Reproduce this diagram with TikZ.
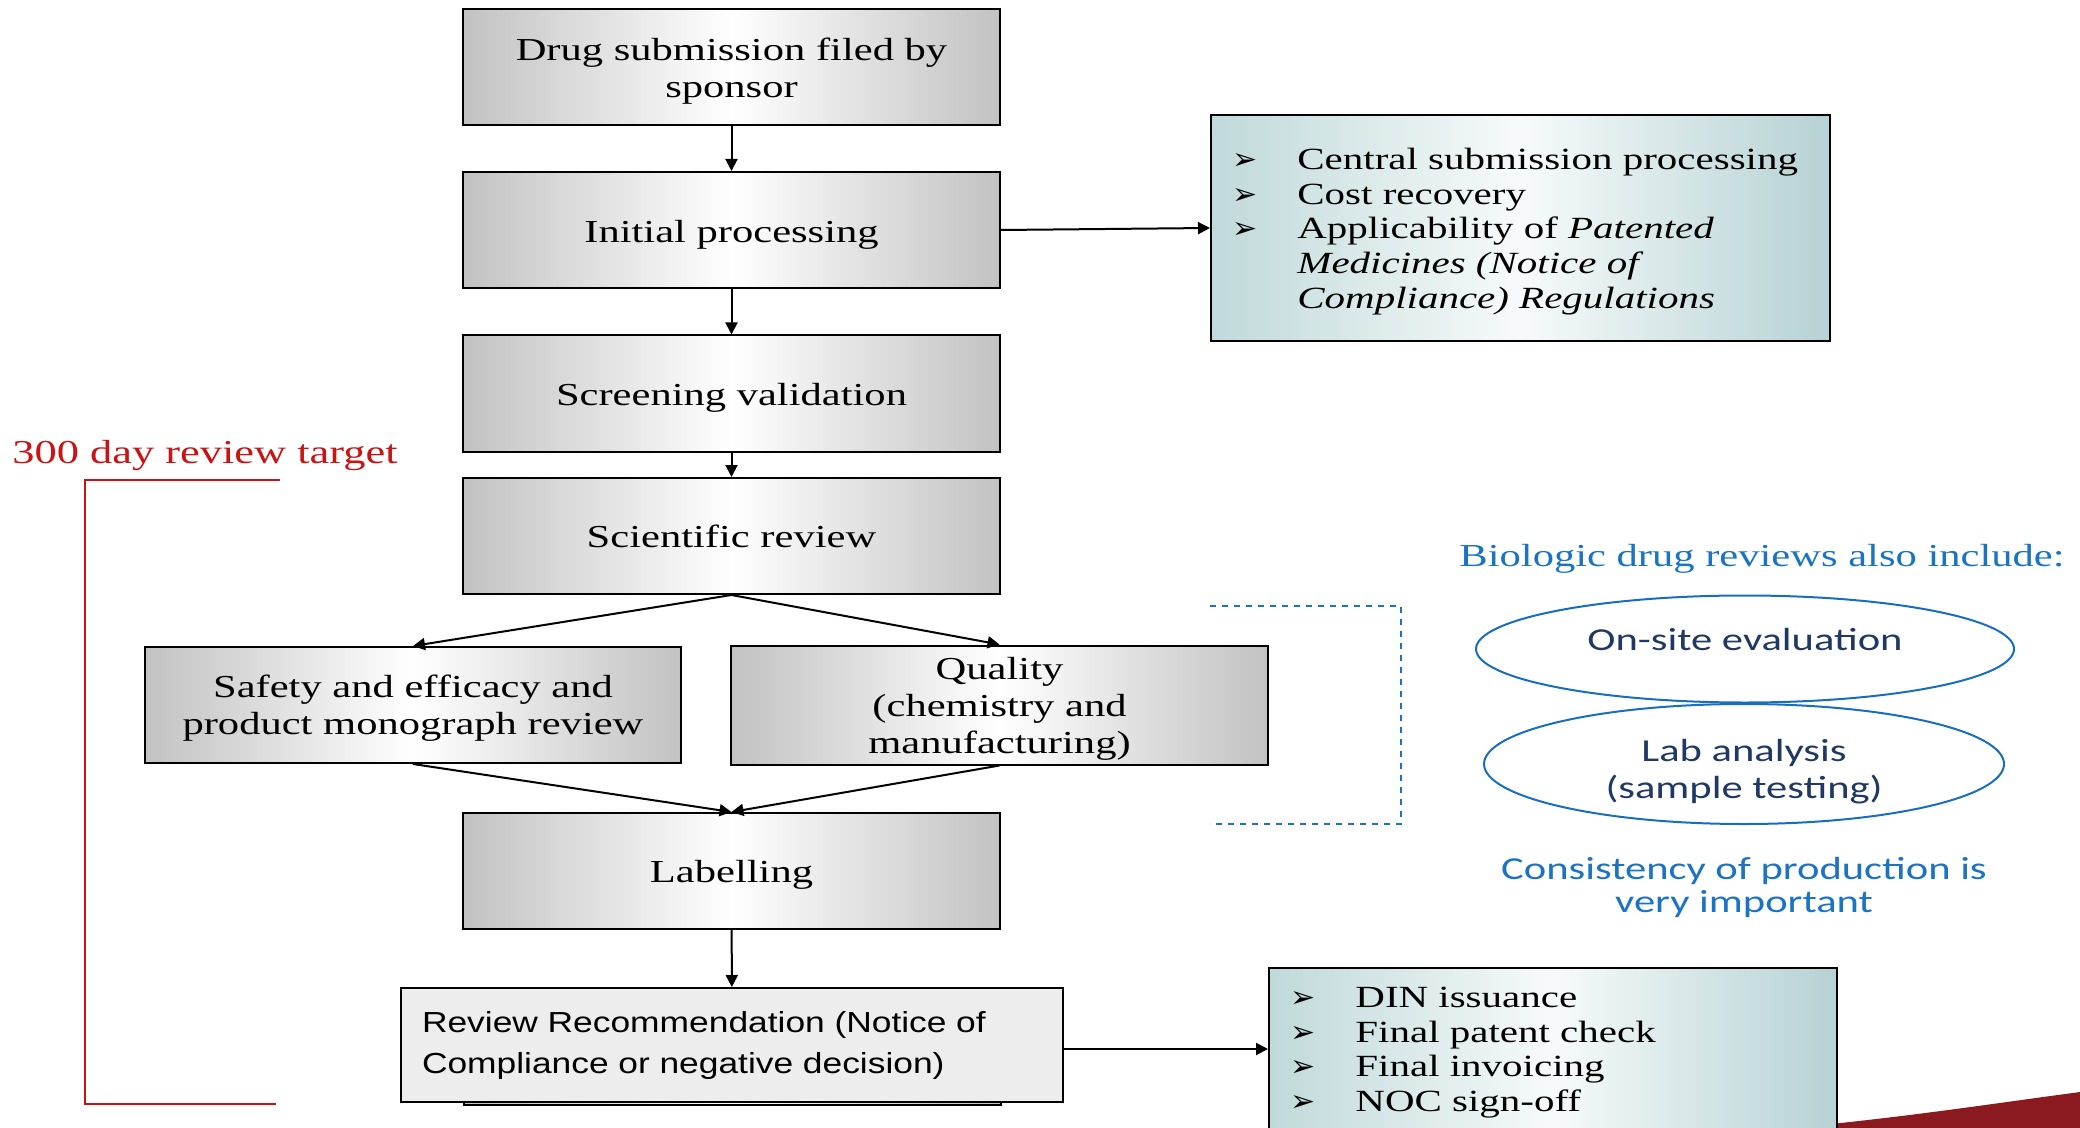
\documentclass[tikz,border=0pt]{standalone}
\usepackage{fontspec}
\setmainfont[FakeStretch=1.33]{Liberation Serif}
\newfontfamily\arialf[FakeStretch=1.22]{Liberation Sans}
\newfontfamily\calf[FakeStretch=1.33]{Carlito}
\newfontfamily\symf{DejaVu Sans}
\usetikzlibrary{arrows.meta,shapes.geometric}
\definecolor{redc}{RGB}{200,20,20}
\definecolor{bluec}{RGB}{26,115,196}
\definecolor{navyc}{RGB}{31,56,100}
\definecolor{ellc}{RGB}{24,110,190}
\definecolor{tealL}{RGB}{192,217,218}
\definecolor{tealR}{RGB}{182,210,212}
\definecolor{tealM}{RGB}{247,250,250}
\definecolor{swoosh}{RGB}{138,26,31}
\newcommand{\bul}{\makebox[12pt][l]{\symf\fontsize{15}{15}\selectfont ➢}\hspace{20.5pt}}
\newcommand{\btxt}[2][-2.7pt]{\raisebox{#1}[\height][\depth]{\begin{tabular}{@{}c@{}}#2\end{tabular}}}
\tikzset{
  graybox/.style={draw=black, line width=1pt, left color=black!24, right color=black!24, middle color=white,
    minimum width=268.5pt, minimum height=58pt, inner sep=2pt, align=center,
    font=\fontsize{16}{18.5}\selectfont},
  tealbox/.style={draw=black, line width=1pt, left color=tealL, right color=tealR, middle color=tealM},
  arr/.style={-{Triangle[length=6pt,width=6pt]}, line width=1pt},
  bubble/.style={ellipse, draw=ellc, line width=1pt, text=navyc, align=center,
    font=\calf\fontsize{16}{18.5}\selectfont, inner sep=0pt},
  listtxt/.style={anchor=north west, inner sep=0pt, font=\fontsize{15.4}{17.3}\selectfont},
}
\begin{document}
\begin{tikzpicture}[x=0.5pt,y=-0.5pt]
\useasboundingbox (0,0) rectangle (2080,1128);
% decorative swoosh
\fill[swoosh] (1790,1128) .. controls (1900,1118) and (1990,1104) .. (2080,1092) -- (2080,1128) -- cycle;

% main flow
\node[graybox] (drug) at (731.5,67) {\btxt[-2.4pt]{Drug submission filed by\\sponsor}};
\node[graybox] (init) at (731.5,230) {\btxt{Initial processing}};
\node[graybox] (screen) at (731.5,393.5) {\btxt[-2.2pt]{Screening validation}};
\node[graybox] (sci) at (731.5,536) {\btxt[-2pt]{Scientific review}};
\node[graybox, minimum width=268pt] (safety) at (413,705) {\btxt[-2pt]{Safety and efficacy and\\product monograph review}};
\node[graybox] (quality) at (999.5,705) {\btxt[-2pt]{Quality\\(chemistry and\\manufacturing)}};
\node[graybox] (label) at (731.5,871) {\btxt[-2pt]{Labelling}};
\node[graybox] (recback) at (732,1047) {};
\node[draw=black, line width=1pt, fill=black!7, minimum width=331pt, minimum height=57pt,
  inner xsep=10.5pt, text width=310pt, align=left, font=\arialf\fontsize{14.5}{20.5}\selectfont]
  (rec) at (732,1045) {Review Recommendation (Notice of\\Compliance or negative decision)};

% right info boxes
\node[tealbox, minimum width=309.5pt, minimum height=113pt, anchor=north west] (box1) at (1210,114) {};
\node[listtxt] (box1txt) at (1232,145)
  {\begin{tabular}{@{}l@{}}
   \bul Central submission processing\\
   \bul Cost recovery\\
   \bul Applicability of \textit{Patented}\\
   \hspace{32.5pt}\textit{Medicines (Notice of}\\
   \hspace{32.5pt}\textit{Compliance) Regulations}
   \end{tabular}};
\node[tealbox, minimum width=284pt, minimum height=90pt, anchor=north west] (box2) at (1268,967) {};
\node[listtxt] (box2txt) at (1290,983)
  {\begin{tabular}{@{}l@{}}
   \bul DIN issuance\\
   \bul Final patent check\\
   \bul Final invoicing\\
   \bul NOC sign-off
   \end{tabular}};

% connectors
\draw[arr] (drug) -- (init);
\draw[arr] (init) -- (screen);
\draw[arr] (screen) -- (sci);
\draw[arr] (sci.south) -- (safety.north);
\draw[arr] (sci.south) -- (quality.north);
\draw[arr] (safety.south) -- (label.north);
\draw[arr] (quality.south) -- (label.north);
\draw[arr] (label) -- (rec);
\draw[arr] (init.east) -- (box1.west);
\draw[arr] ([yshift=-2pt]rec.east) -- ([yshift=-2pt]rec.east -| box2.west);

% 300 day bracket
\node[anchor=base west, text=redc, inner sep=0pt, font=\fontsize{16.7}{18}\selectfont] (target) at (12,463) {300 day review target};
\coordinate (bt) at (280,480);
\coordinate (bb) at (276,1104);
\draw[redc, line width=1pt] (bt) -- (85,480) -- (85,1104) -- (bb);

% biologic section
\coordinate (dt) at (1210,606);
\coordinate (db) at (1210,824);
\draw[bluec, dashed, line width=1pt] (dt) -- (1401,606) -- (1401,824) -- (db);
\node[anchor=base, text=bluec, inner sep=0pt, font=\fontsize{16}{18}\selectfont] (bio) at (1762,566) {Biologic drug reviews also include:};
\node[bubble, minimum width=269pt, minimum height=53.5pt] (onsite) at (1745,649) {\raisebox{4.7pt}[\height][\depth]{On-site evaluation}};
\node[bubble, minimum width=260pt, minimum height=60pt] (lab) at (1744,764) {\raisebox{-4.3pt}[\height][\depth]{\begin{tabular}{@{}c@{}}Lab analysis\\(sample testing)\end{tabular}}};
\node[text=bluec, align=center, inner sep=0pt, font=\calf\fontsize{16}{16.5}\selectfont] (consist) at (1744,887) {Consistency of production is\\very important};
\end{tikzpicture}
\end{document}
